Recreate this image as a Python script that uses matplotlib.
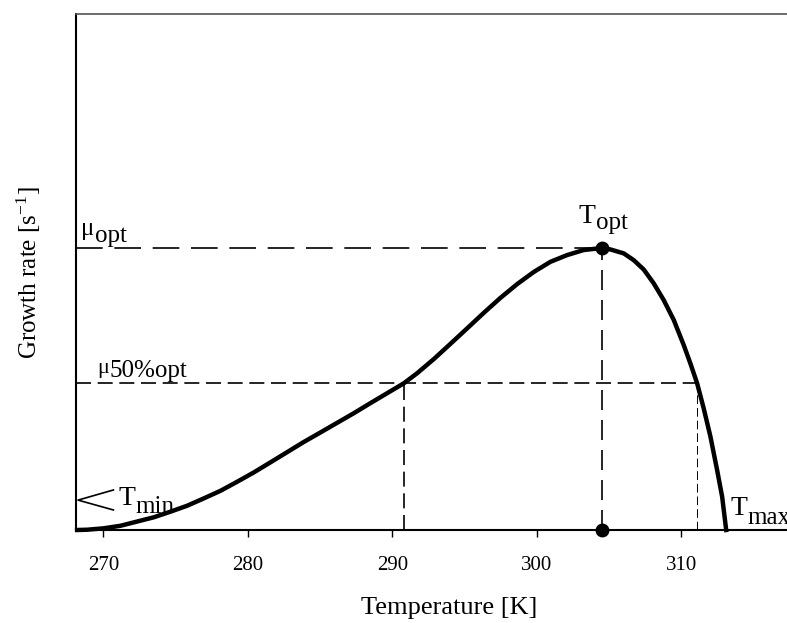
import numpy as np
import matplotlib
matplotlib.use("Agg")
import matplotlib.pyplot as plt

plt.rcParams['font.family'] = ['Liberation Serif', 'DejaVu Serif']
plt.rcParams['mathtext.fontset'] = 'stix'

# growth curve (temperature in K, rate relative to mu_opt)
temp = [268.18, 268.87, 270.02, 271.18, 272.33, 273.48, 274.64, 275.79, 276.94,
        278.10, 279.25, 280.40, 281.56, 282.71, 283.86, 285.02, 286.17, 287.32,
        288.48, 289.63, 290.78, 291.71, 292.86, 294.01, 295.17, 296.32, 297.47,
        298.63, 299.78, 300.93, 302.09, 303.24, 304.5, 305.09, 306.01, 306.70,
        307.39, 308.08, 308.77, 309.47, 310.16, 310.62, 311.09, 311.54, 312.01,
        312.47, 312.82, 313.1]
rate = [0.0, 0.001, 0.006, 0.015, 0.030, 0.045, 0.065, 0.086, 0.112,
        0.139, 0.171, 0.204, 0.240, 0.276, 0.312, 0.346, 0.380, 0.414,
        0.450, 0.485, 0.520, 0.556, 0.606, 0.660, 0.715, 0.770, 0.823,
        0.872, 0.915, 0.951, 0.975, 0.993, 1.0, 0.995, 0.981, 0.957,
        0.924, 0.875, 0.816, 0.745, 0.656, 0.591, 0.52, 0.432, 0.331,
        0.213, 0.118, 0.0]

t_opt = 304.5
mu_opt = 1.0
mu_half = 0.52
t_half_low = 290.8
t_half_high = 311.1
xticks = [270, 280, 290, 300, 310]

fig = plt.figure(figsize=(7.87, 6.23), dpi=100)
ax = fig.add_axes([76 / 787, 93 / 623, 747 / 787, 516 / 623])
ax.set_xlim(268.1, 319.8)
ax.set_ylim(0, 1.83)

# dashed guide lines
ax.plot([268.1, t_opt], [mu_opt, mu_opt], color='black', lw=1.2, dashes=(16, 7))
ax.plot([t_opt, t_opt], [0, mu_opt], color='black', lw=1.2, dashes=(12, 6))
ax.plot([268.1, t_half_high], [mu_half, mu_half], color='black', lw=1.2, dashes=(9, 4))
ax.plot([t_half_low, t_half_low], [0, mu_half], color='black', lw=1.2, dashes=(9, 4))
ax.plot([t_half_high, t_half_high], [0, mu_half], color='black', lw=0.7, dashes=(9, 4))

ax.plot(temp, rate, color='black', lw=3.2, solid_joinstyle='round', clip_on=False)
ax.plot([t_opt, t_opt], [mu_opt, 0], 'o', color='black', ms=9, clip_on=False, zorder=5)


def label(x, y, big, small, dy, big_size=20, small_size=18):
    # main letter with a shifted suffix right after it
    t = ax.text(x, y, big, fontsize=big_size, va='baseline')
    ax.annotate(small, xy=(1, 0), xycoords=t, xytext=(0.3, dy),
                textcoords='offset points', fontsize=small_size, va='bottom')


label(268.48, 1.046, 'μ', 'opt', -5, big_size=18)
label(269.55, 0.556, 'μ', '50%opt', -3, big_size=16)
label(302.87, 1.089, 'T', 'opt', -3.6)
label(271.04, 0.0887, 'T', 'min', -5)
label(313.39, 0.053, 'T', 'max', -5.8)

# open arrow head pointing at T_min
ax.plot([270.69, 268.24, 270.69], [0.142, 0.106, 0.071], color='black', lw=1.2)

ax.set_xticks(xticks)
ax.set_yticks([])
ax.tick_params(axis='x', direction='out', length=5, width=1, labelsize=15, pad=14)
for s in ['left', 'bottom']:
    ax.spines[s].set_linewidth(1.5)
ax.spines['top'].set_linewidth(1.2)
ax.spines['top'].set_color('#555555')
ax.spines['right'].set_visible(False)

ax.set_xlabel('Temperature [K]', fontsize=19)
ax.xaxis.set_label_coords(0.5, -0.13)
fig.text(29 / 787, 1 - 272 / 623, 'Growth rate [s$^{\\mathregular{-1}}$]', fontsize=18,
         rotation=90, ha='center', va='center')

fig.savefig('out.png', dpi=100)
